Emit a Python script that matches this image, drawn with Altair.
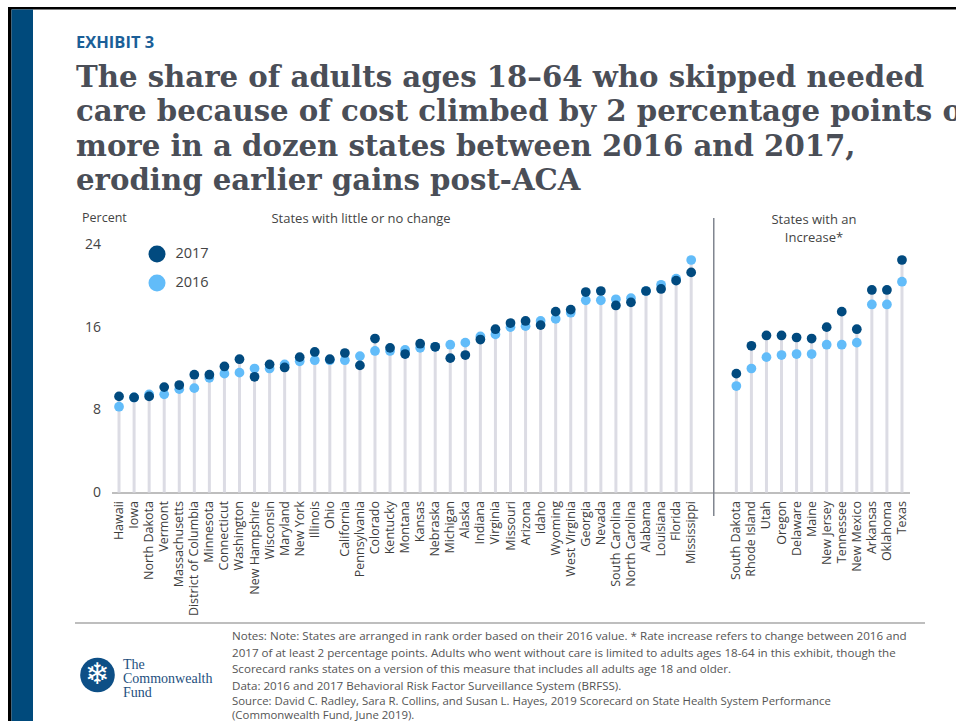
import altair as alt
import pandas as pd

# ---------------- data ----------------
left_states = ["Hawaii", "Iowa", "North Dakota", "Vermont", "Massachusetts",
               "District of Columbia", "Minnesota", "Connecticut", "Washington",
               "New Hampshire", "Wisconsin", "Maryland", "New York", "Illinois",
               "Ohio", "California", "Pennsylvania", "Colorado", "Kentucky",
               "Montana", "Kansas", "Nebraska", "Michigan", "Alaska", "Indiana",
               "Virginia", "Missouri", "Arizona", "Idaho", "Wyoming",
               "West Virginia", "Georgia", "Nevada", "South Carolina",
               "North Carolina", "Alabama", "Louisiana", "Florida", "Mississippi"]
left_2016 = [8.3, 9.2, 9.5, 9.5, 10.0, 10.1, 11.1, 11.5, 11.6, 12.0, 12.0, 12.4,
             12.7, 12.8, 12.8, 12.8, 13.2, 13.7, 13.7, 13.8, 14.0, 14.1, 14.3,
             14.5, 15.1, 15.3, 16.0, 16.1, 16.6, 16.8, 17.4, 18.6, 18.6, 18.7,
             18.8, 19.5, 20.1, 20.7, 22.5]
left_2017 = [9.3, 9.2, 9.3, 10.2, 10.4, 11.4, 11.4, 12.2, 12.9, 11.2, 12.4, 12.1,
             13.1, 13.6, 12.9, 13.5, 12.3, 14.9, 14.0, 13.4, 14.4, 14.1, 13.0,
             13.3, 14.8, 15.8, 16.4, 16.6, 16.2, 17.5, 17.7, 19.4, 19.5, 18.1,
             18.4, 19.5, 19.7, 20.5, 21.3]

right_states = ["South Dakota", "Rhode Island", "Utah", "Oregon", "Delaware",
                "Maine", "New Jersey", "Tennessee", "New Mexico", "Arkansas",
                "Oklahoma", "Texas"]
right_2016 = [10.3, 12.0, 13.1, 13.3, 13.4, 13.4, 14.3, 14.3, 14.5, 18.2, 18.2, 20.4]
right_2017 = [11.5, 14.2, 15.2, 15.2, 15.0, 14.9, 16.0, 17.5, 15.8, 19.6, 19.6, 22.5]

gap_slots = ["~1", "~2"]
y_ticks = [0, 8, 16, 24]
years = ["2017", "2016"]

title_lines = ["The share of adults ages 18\u201364 who skipped needed",
               "care because of cost climbed by 2 percentage points or",
               "more in a dozen states between 2016 and 2017,",
               "eroding earlier gains post-ACA"]
notes_lines = ["Notes: Note: States are arranged in rank order based on their 2016 value. * Rate increase refers to change between 2016 and",
               "2017 of at least 2 percentage points. Adults who went without care is limited to adults ages 18-64 in this exhibit, though the",
               "Scorecard ranks states on a version of this measure that includes all adults age 18 and older."]
data_line = "Data: 2016 and 2017 Behavioral Risk Factor Surveillance System (BRFSS)."
source_lines = ["Source: David C. Radley, Sara R. Collins, and Susan L. Hayes, 2019 Scorecard on State Health System Performance",
                "(Commonwealth Fund, June 2019)."]

# ---------------- tables ----------------
states = left_states + right_states
v16 = left_2016 + right_2016
v17 = left_2017 + right_2017
long_df = pd.DataFrame(
    {"state": states + states,
     "year": ["2016"] * len(states) + ["2017"] * len(states),
     "value": v16 + v17})
stem_df = pd.DataFrame({"state": states, "top": [max(a, b) for a, b in zip(v16, v17)]})
domain = left_states + gap_slots + right_states

# ---------------- layout ----------------
OX, OY = 111.5, 244.5
W, H = 798, 248
DARK, LIGHT = "#014a7f", "#62bcf9"
FONT = "Open Sans"

xscale = alt.Scale(domain=domain, paddingInner=0, paddingOuter=0)
x_axis = alt.Axis(title=None, labelAngle=-90, labelFont=FONT, labelFontSize=12.5,
                  labelColor="#3d3d3d", domainColor="#a9a9a9", domainWidth=1.5,
                  ticks=False, labelPadding=8,
                  labelExpr="indexof(datum.label, '~') == 0 ? '' : datum.label")
yscale = alt.Scale(domain=[0, 24], nice=False)
y_axis = alt.Axis(title=None, values=y_ticks, grid=False, domain=False, ticks=False,
                  labelFont=FONT, labelFontSize=14, labelColor="#444444",
                  labelPadding=11)

stems = alt.Chart(stem_df).mark_rule(color="#dcdce4", strokeWidth=3).encode(
    x=alt.X("state:N", scale=xscale, axis=x_axis, sort=domain),
    y=alt.Y("top:Q", scale=yscale, axis=y_axis),
    y2=alt.datum(0))

points = alt.Chart(long_df).mark_circle(size=95, opacity=1).encode(
    x=alt.X("state:N", scale=xscale, sort=domain),
    y=alt.Y("value:Q", scale=yscale),
    color=alt.Color("year:N", scale=alt.Scale(domain=years, range=[DARK, LIGHT]),
                    legend=alt.Legend(title=None, orient="none", legendX=36, legendY=0,
                                      symbolSize=290, symbolType="circle",
                                      symbolOpacity=1, labelFont=FONT,
                                      labelFontSize=14.5, labelColor="#444444",
                                      rowPadding=10, labelOffset=9, padding=0)))

divider = alt.Chart(pd.DataFrame({"state": ["~2"]})).mark_rule(
    color="#80858f", strokeWidth=1.5).encode(
    x=alt.X("state:N", scale=xscale, bandPosition=0, sort=domain),
    y=alt.value(218 - OY), y2=alt.value(516 - OY))

one = pd.DataFrame({"k": [0]})


def txt(text, x, y, **kw):
    params = dict(align="left", baseline="alphabetic", font=FONT, fontSize=12.5,
                  color="#444444")
    params.update(kw)
    return alt.Chart(one).mark_text(text=text, **params).encode(
        x=alt.value(x - OX), y=alt.value(y - OY))


def rect(x1, x2, y1, y2, color):
    return alt.Chart(one).mark_rect(color=color).encode(
        x=alt.value(x1 - OX), x2=alt.value(x2 - OX),
        y=alt.value(y1 - OY), y2=alt.value(y2 - OY))


deco = [
    rect(8, 956, 7, 9.5, "#000000"),
    rect(8, 11.5, 7, 721, "#000000"),
    rect(11.5, 33, 9.5, 721, "#004a7c"),
    alt.Chart(one).mark_rule(color="#a9a9a9", strokeWidth=1.5).encode(
        x=alt.value(75 - OX), x2=alt.value(925 - OX), y=alt.value(623 - OY)),
    alt.Chart(one).mark_circle(size=1200, color="#0d4f86", opacity=1).encode(
        x=alt.value(97.5 - OX), y=alt.value(675 - OY)),
]

texts = [
    txt("EXHIBIT 3", 76, 48, fontSize=16.5, fontWeight="bold", color="#1b5f98"),
    txt(title_lines, 76, 87, font="DejaVu Serif", fontWeight="bold", fontSize=29.2,
        lineHeight=34.4, color="#4a4e57"),
    txt("Percent", 82, 222, fontSize=12.5),
    txt("States with little or no change", 361, 223, align="center", fontSize=13),
    txt(["States with an", "Increase*"], 814, 224, align="center", fontSize=13,
        lineHeight=18),
    txt(notes_lines, 232, 640, fontSize=11.6, lineHeight=16.5, color="#555555"),
    txt(data_line, 232, 690, fontSize=11.6, color="#555555"),
    txt(source_lines, 232, 705, fontSize=11.4, lineHeight=13.5, color="#555555"),
    txt(["The", "Commonwealth", "Fund"], 123, 669, font="Liberation Serif",
        fontSize=14, lineHeight=14, color="#1e4f7e"),
    txt("\u2744", 97.5, 675, align="center", baseline="middle", font="DejaVu Sans",
        fontSize=30, color="#ffffff"),
]

chart = alt.layer(*deco, stems, points, divider, *texts).properties(
    width=W, height=H,
    padding={"left": OX, "top": OY, "right": 956 - OX - W, "bottom": 721 - OY - H},
    autosize=alt.AutoSizeParams(type="none"),
    background="#ffffff",
).configure_view(stroke=None)

chart.save("out.html", embed_options={"renderer": "svg", "actions": False})
